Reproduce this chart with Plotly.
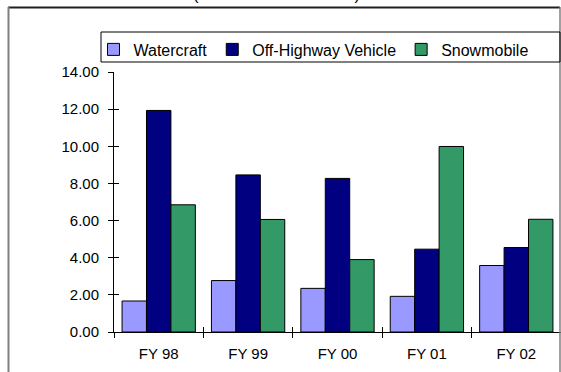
import plotly.graph_objects as go

# Fiscal years on the category axis
years = ["FY 98", "FY 99", "FY 00", "FY 01", "FY 02"]

# Values per program
watercraft = [1.67, 2.77, 2.35, 1.92, 3.58]
off_highway = [11.93, 8.46, 8.27, 4.46, 4.55]
snowmobile = [6.85, 6.06, 3.90, 9.99, 6.07]

y_ticks = [0, 2, 4, 6, 8, 10, 12, 14]

FONT = "Liberation Sans, Arial, sans-serif"
W, H = 561, 372
ML, MR, MT, MB = 114, 0, 72, 40
PW, PH = W - ML - MR, H - MT - MB


def px_x(x):
    return (x - ML) / PW


def px_y(y):
    return (H - MB - y) / PH


fig = go.Figure()
series = [
    ("Watercraft", watercraft, "#9999FF"),
    ("Off-Highway Vehicle", off_highway, "#000080"),
    ("Snowmobile", snowmobile, "#339966"),
]
for name, vals, color in series:
    fig.add_trace(go.Bar(
        name=name, x=years, y=vals,
        marker=dict(color=color, line=dict(color="black", width=1)),
    ))

# Invisible helper trace carrying the inner half of the cross tick marks
fig.add_trace(go.Scatter(
    x=years, y=watercraft, xaxis="x2", yaxis="y2", mode="markers",
    marker=dict(opacity=0), showlegend=False, hoverinfo="skip",
))

axis_font = dict(family=FONT, size=15, color="black")
fig.update_layout(
    width=W, height=H,
    margin=dict(l=ML, r=MR, t=MT, b=MB),
    paper_bgcolor="white", plot_bgcolor="white",
    barmode="group", bargap=0.18, bargroupgap=0,
    font=dict(family=FONT, size=15, color="black"),
    showlegend=True,
    legend=dict(
        orientation="h", x=px_x(93.5), y=px_y(32.5), xanchor="left", yanchor="top",
        font=dict(family=FONT, size=16, color="black"),
        bgcolor="rgba(0,0,0,0)", borderwidth=0, traceorder="normal",
    ),
    xaxis=dict(
        type="category", categoryarray=years, range=[-0.5, 4.5],
        showline=True, linecolor="black", linewidth=1,
        ticks="outside", ticklen=5, tickcolor="black", tickson="boundaries",
        ticklabelstandoff=8,
        tickfont=axis_font, showgrid=False, zeroline=False, fixedrange=True,
    ),
    yaxis=dict(
        range=[0, 14], tickvals=y_ticks, tickformat=".2f",
        showline=True, linecolor="black", linewidth=1,
        ticks="outside", ticklen=5, tickcolor="black", ticklabelstandoff=6,
        tickfont=axis_font, showgrid=False, zeroline=False, fixedrange=True,
    ),
    xaxis2=dict(
        type="category", categoryarray=years, range=[-0.5, 4.5], overlaying="x",
        side="bottom", ticks="inside", ticklen=5, tickcolor="black",
        tickson="boundaries", showticklabels=False, showline=False,
        showgrid=False, zeroline=False, fixedrange=True,
    ),
    yaxis2=dict(
        range=[0, 14], tickvals=y_ticks, overlaying="y", side="left",
        ticks="inside", ticklen=5, tickcolor="black", showticklabels=False,
        showline=False, showgrid=False, zeroline=False, fixedrange=True,
    ),
)

# Chart frame and legend box
fig.add_shape(type="line", xref="paper", yref="paper",
              x0=px_x(8), x1=px_x(560), y0=px_y(7.5), y1=px_y(7.5),
              line=dict(color="#202020", width=2))
fig.add_shape(type="line", xref="paper", yref="paper",
              x0=px_x(8.5), x1=px_x(8.5), y0=px_y(7), y1=px_y(380),
              line=dict(color="#808080", width=2))
fig.add_shape(type="line", xref="paper", yref="paper",
              x0=px_x(560), x1=px_x(560), y0=px_y(7), y1=px_y(380),
              line=dict(color="#808080", width=1.5))
fig.add_shape(type="rect", xref="paper", yref="paper",
              x0=px_x(101), x1=px_x(560), y0=px_y(62), y1=px_y(32),
              line=dict(color="black", width=1))

# Chart title, mostly above the top edge of the page
fig.add_annotation(
    text="(Thousands of Dollars)", xref="paper", yref="paper",
    x=px_x(276), y=px_y(4.5), xanchor="center", yanchor="bottom",
    showarrow=False, font=dict(family=FONT, size=16.5, color="black"),
)

fig.write_html("out.html")
